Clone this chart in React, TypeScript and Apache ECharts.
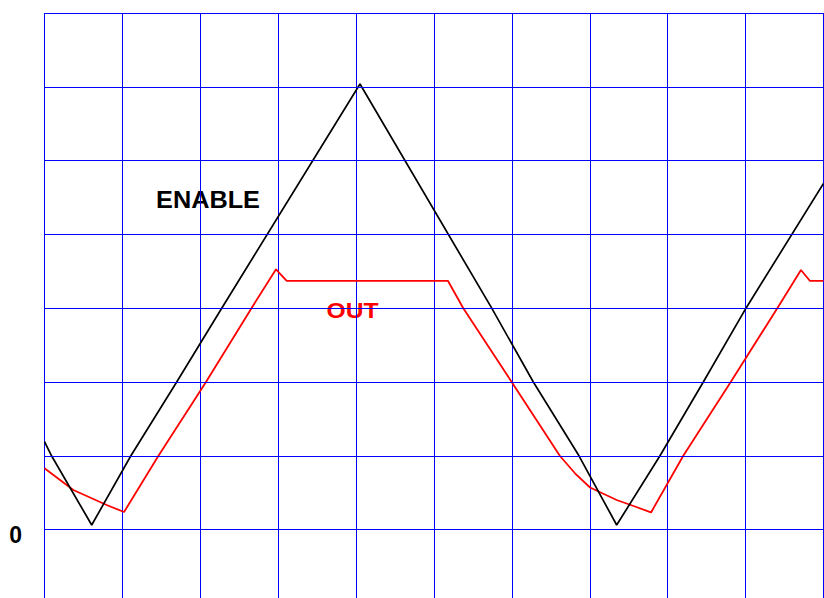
import React, { useEffect, useRef } from "react";
import * as echarts from "echarts";

// Horizontal divisions (x) and vertical divisions (y); 0 V level at y = 0
const xTicks = [0, 1, 2, 3, 4, 5, 6, 7, 8, 9, 10];
const yGridLevels = [0, 1, 2, 3, 4, 5, 6, 7];
const yTickLabels = ["0"];

const enableSeries: [number, number][] = [
  [0, 1.191],
  [0.092, 0.997],
  [0.606, 0.062],
  [1.107, 0.997],
  [1.697, 2.0],
  [2.275, 3.0],
  [4.05, 6.038],
  [5.741, 3.0],
  [6.275, 2.0],
  [6.861, 1.0],
  [7.345, 0.062],
  [7.901, 1.0],
  [8.457, 2.0],
  [9.005, 3.0],
  [10.0, 4.69],
];

const outSeries: [number, number][] = [
  [0, 0.831],
  [0.37, 0.537],
  [0.798, 0.333],
  [1.021, 0.238],
  [1.461, 0.997],
  [2.073, 2.0],
  [2.673, 3.027],
  [2.972, 3.527],
  [3.109, 3.369],
  [5.18, 3.369],
  [5.376, 3.0],
  [5.997, 2.0],
  [6.617, 0.997],
  [6.81, 0.763],
  [7.003, 0.57],
  [7.345, 0.401],
  [7.58, 0.313],
  [7.786, 0.232],
  [8.2, 1.001],
  [8.809, 2.0],
  [9.407, 3.0],
  [9.711, 3.518],
  [9.827, 3.369],
  [10.0, 3.369],
];

const seriesNames = ["ENABLE", "OUT"];

export default function App() {
  const ref = useRef<HTMLDivElement>(null);
  useEffect(() => {
    document.body.style.margin = "0";
    const chart = echarts.init(ref.current!, null, { renderer: "svg" });
    const font = '"Liberation Sans", Arial, Helvetica, sans-serif';
    chart.setOption({
      animation: false,
      backgroundColor: "#ffffff",
      grid: { left: 44.5, top: 13, right: 0.5, bottom: 0, containLabel: false },
      xAxis: {
        type: "value",
        min: xTicks[0],
        max: xTicks[xTicks.length - 1],
        interval: 1,
        axisLine: { show: false },
        axisTick: { show: false },
        axisLabel: { show: false },
        splitLine: { show: true, lineStyle: { color: "#0000ff", width: 1 } },
      },
      yAxis: {
        type: "value",
        min: -0.927,
        max: 7,
        axisLine: { show: false },
        axisTick: { show: false },
        axisLabel: { show: false },
        splitLine: { show: false },
      },
      graphic: [
        {
          type: "text",
          z: -1,
          x: 208,
          y: 200,
          scaleX: 1.1,
          style: {
            text: seriesNames[0],
            fill: "#000000",
            font: `bold 23px ${font}`,
            align: "center",
            verticalAlign: "middle",
          },
        },
        {
          type: "text",
          z: -1,
          x: 352.5,
          y: 310,
          scaleX: 1.12,
          style: {
            text: seriesNames[1],
            fill: "#ff0000",
            font: `bold 22px ${font}`,
            align: "center",
            verticalAlign: "middle",
          },
        },
        {
          type: "text",
          x: 15.7,
          y: 535,
          style: {
            text: yTickLabels[0],
            fill: "#000000",
            font: `bold 23px ${font}`,
            align: "center",
            verticalAlign: "middle",
          },
        },
      ],
      series: [
        {
          name: "grid",
          type: "line",
          data: [],
          silent: true,
          z: 1,
          markLine: {
            silent: true,
            symbol: ["none", "none"],
            label: { show: false },
            lineStyle: { color: "#0000ff", width: 1, type: "solid" },
            data: yGridLevels.map((v) => ({ yAxis: v })),
          },
        },
        {
          name: seriesNames[1],
          type: "line",
          data: outSeries,
          showSymbol: false,
          symbol: "none",
          lineStyle: { color: "#ff0000", width: 1.8 },
          z: 3,
        },
        {
          name: seriesNames[0],
          type: "line",
          data: enableSeries,
          showSymbol: false,
          symbol: "none",
          lineStyle: { color: "#000000", width: 1.7 },
          z: 4,
        },
      ],
    });
    return () => chart.dispose();
  }, []);
  return (
    <div
      ref={ref}
      style={{ position: "absolute", left: 0, top: 0, width: 824, height: 598 }}
    />
  );
}
